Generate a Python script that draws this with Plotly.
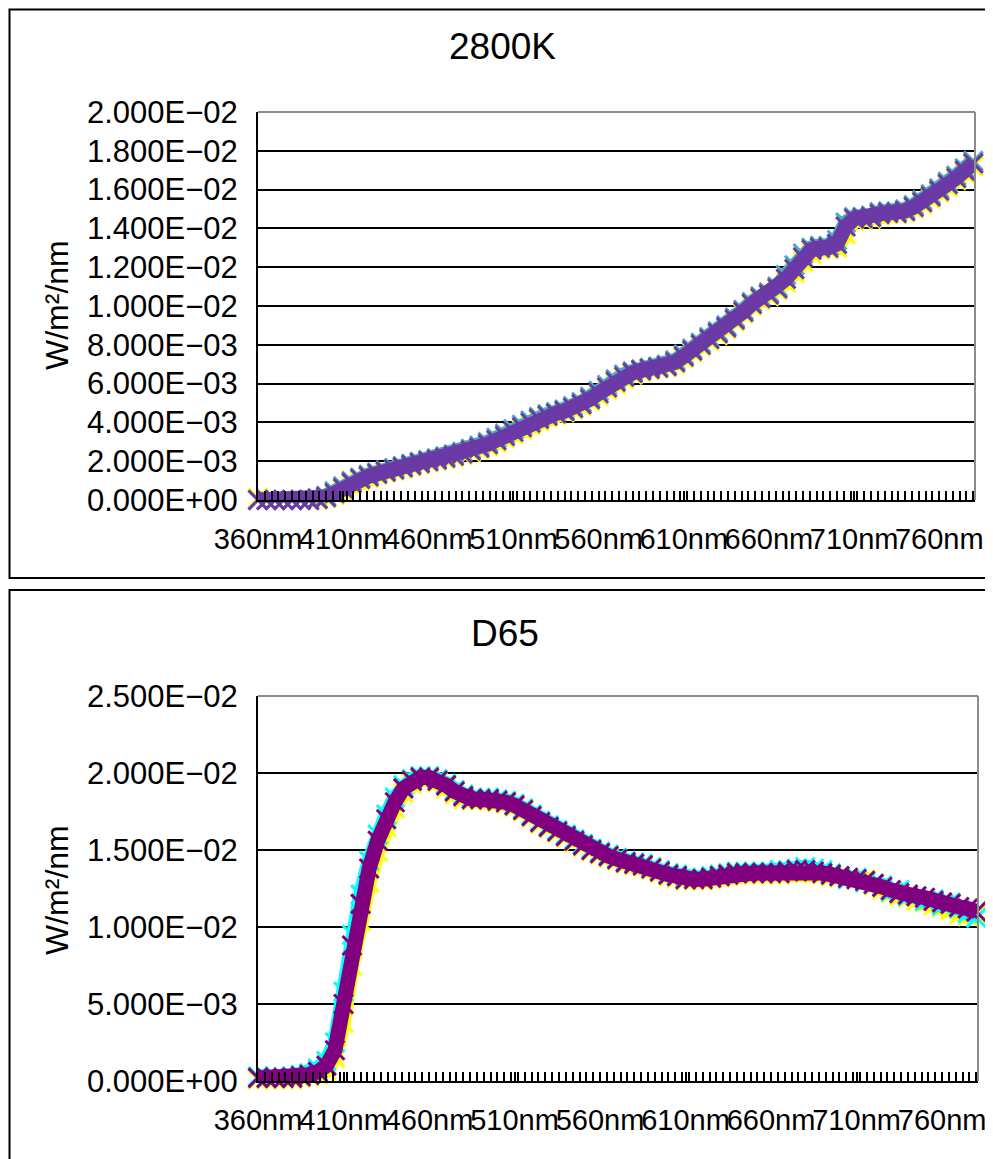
import plotly.graph_objects as go

# ---------------- data ----------------
wavelengths = list(range(360, 781, 5))

k2800_purple = [
    0.0, 0.0, 0.0, 0.0, 0.0, 0.0, 0.0, 0.00005, 0.00015, 0.00035,
    0.0006, 0.00088, 0.00108, 0.00122, 0.00135, 0.00146, 0.00157, 0.00168, 0.0018, 0.0019,
    0.002, 0.00208, 0.00218, 0.00228, 0.0024, 0.00255, 0.0027, 0.00288, 0.00308, 0.0033,
    0.00352, 0.00375, 0.00398, 0.00418, 0.00434, 0.00446, 0.00458, 0.00474, 0.00494, 0.0052,
    0.0055, 0.0058, 0.0061, 0.00635, 0.00655, 0.00668, 0.00676, 0.00682, 0.0069, 0.0071,
    0.0074, 0.0077, 0.008, 0.0083, 0.0086, 0.0089, 0.0093, 0.0097, 0.0101, 0.0104,
    0.0106, 0.0109, 0.0114, 0.0119, 0.0125, 0.0129, 0.013, 0.013, 0.0132, 0.0141,
    0.0145, 0.01452, 0.01458, 0.01475, 0.0148, 0.0148, 0.0149, 0.0151, 0.01535, 0.01565,
    0.01595, 0.01628, 0.0166, 0.01698, 0.01735,
]
k2800_yellow = [
    0.0001, 0.0, 0.0, 0.0, 0.0, 0.0, 0.0, 0.0, 0.0001, 0.00025,
    0.00048, 0.00075, 0.00098, 0.00114, 0.00128, 0.0014, 0.00151, 0.00162, 0.00173, 0.00184,
    0.00194, 0.00202, 0.00211, 0.00221, 0.00232, 0.00246, 0.0026, 0.00277, 0.00296, 0.00317,
    0.00339, 0.00362, 0.00385, 0.00407, 0.00425, 0.00439, 0.00451, 0.00465, 0.00484, 0.00508,
    0.00537, 0.00567, 0.00597, 0.00624, 0.00646, 0.00661, 0.0067, 0.00677, 0.00684, 0.00701,
    0.0073, 0.0076, 0.0079, 0.0082, 0.0085, 0.0088, 0.0092, 0.0096, 0.01, 0.0103,
    0.0105, 0.0108, 0.0112, 0.0117, 0.0123, 0.0127, 0.0129, 0.0129, 0.0130, 0.0137,
    0.0144, 0.01445, 0.0145, 0.01465, 0.01472, 0.01474, 0.01482, 0.015, 0.01524, 0.01553,
    0.01583, 0.01615, 0.01648, 0.01685, 0.0172,
]
k2800_blue = [
    0.0, 0.0, 0.0, 0.0, 0.0, 0.0, 0.00002, 0.0001, 0.00022, 0.00045,
    0.0007, 0.00098, 0.00116, 0.0013, 0.00142, 0.00153, 0.00164, 0.00175, 0.00187, 0.00197,
    0.00206, 0.00215, 0.00225, 0.00236, 0.00249, 0.00264, 0.0028, 0.00299, 0.0032, 0.00342,
    0.00365, 0.00388, 0.0041, 0.00428, 0.00442, 0.00453, 0.00466, 0.00484, 0.00505, 0.00532,
    0.00563, 0.00593, 0.00622, 0.00646, 0.00663, 0.00674, 0.00681, 0.00688, 0.00698, 0.0072,
    0.0075, 0.0078, 0.0081, 0.0084, 0.0087, 0.0090, 0.0094, 0.0098, 0.0102, 0.0105,
    0.0107, 0.0110, 0.0116, 0.0121, 0.0127, 0.0130, 0.0131, 0.0131, 0.0134, 0.0143,
    0.01458, 0.0146, 0.01466, 0.01484, 0.01488, 0.01488, 0.01498, 0.0152, 0.01546, 0.01576,
    0.01607, 0.0164, 0.01672, 0.0171, 0.01748,
]

d65_purple = [
    0.0002, 0.0002, 0.0002, 0.0002, 0.0002, 0.0003, 0.0004, 0.0006, 0.001, 0.002,
    0.005, 0.0088, 0.0115, 0.0138, 0.0156, 0.017, 0.0181, 0.019, 0.0195, 0.0197,
    0.0197, 0.0195, 0.0192, 0.0188, 0.0185, 0.0183, 0.0183, 0.0183, 0.0182, 0.0181,
    0.0179, 0.0176, 0.0172, 0.0168, 0.0165, 0.0162, 0.0159, 0.0156, 0.0153, 0.015,
    0.0148, 0.0146, 0.0144, 0.0142, 0.0141, 0.014, 0.0138, 0.0136, 0.0134, 0.0133,
    0.0131, 0.0131, 0.0131, 0.0132, 0.0133, 0.0134, 0.0135, 0.0135, 0.0135, 0.0135,
    0.0135, 0.0135, 0.0136, 0.0137, 0.0137, 0.0136, 0.0135, 0.0134, 0.0133, 0.0132,
    0.0131, 0.013, 0.0128, 0.0126, 0.0124, 0.0122, 0.0121, 0.012, 0.0119, 0.0117,
    0.0116, 0.0115, 0.0113, 0.0112, 0.011,
]
d65_yellow = [
    0.0001, 0.0001, 0.0001, 0.0001, 0.0001, 0.0002, 0.0003, 0.0004, 0.0007, 0.0015,
    0.0038, 0.0075, 0.0104, 0.0129, 0.0149, 0.0165, 0.0177, 0.0187, 0.0193, 0.0196,
    0.0196, 0.0194, 0.019, 0.0186, 0.0183, 0.0182, 0.0182, 0.0182, 0.0181, 0.018,
    0.0178, 0.0175, 0.0171, 0.0167, 0.0164, 0.0161, 0.0158, 0.0155, 0.0152, 0.0149,
    0.0147, 0.0145, 0.0143, 0.0141, 0.014, 0.0139, 0.0137, 0.0135, 0.0133, 0.0132,
    0.013, 0.013, 0.013, 0.0131, 0.0132, 0.0133, 0.0134, 0.0134, 0.0134, 0.0134,
    0.0134, 0.0134, 0.0135, 0.0136, 0.0136, 0.0135, 0.0134, 0.0133, 0.0132, 0.0132,
    0.0131, 0.0131, 0.0127, 0.0124, 0.0122, 0.012, 0.0119, 0.0117, 0.0116, 0.0114,
    0.0113, 0.0111, 0.0108, 0.0107, 0.0108,
]
d65_cyan = [
    0.0003, 0.0002, 0.0003, 0.0002, 0.0003, 0.0004, 0.0005, 0.0008, 0.0013, 0.0025,
    0.0058, 0.0095, 0.0121, 0.0143, 0.016, 0.0173, 0.0184, 0.0192, 0.0196, 0.0198,
    0.0198, 0.0196, 0.0193, 0.0189, 0.0186, 0.0184, 0.0184, 0.0184, 0.0183, 0.0182,
    0.018, 0.0177, 0.0173, 0.0169, 0.0166, 0.0163, 0.016, 0.0157, 0.0154, 0.0151,
    0.0149, 0.0147, 0.0145, 0.0143, 0.0142, 0.0141, 0.0139, 0.0137, 0.0135, 0.0134,
    0.0132, 0.0132, 0.0132, 0.0133, 0.0134, 0.0135, 0.0136, 0.0136, 0.0136, 0.0136,
    0.0136, 0.0137, 0.0137, 0.0138, 0.0139, 0.0138, 0.0137, 0.0135, 0.0133, 0.0131,
    0.0132, 0.0129, 0.0128, 0.0127, 0.0123, 0.0124, 0.012, 0.012, 0.0117, 0.0118,
    0.0114, 0.0116, 0.0112, 0.0109, 0.0106,
]

x_tickvals = [360, 410, 460, 510, 560, 610, 660, 710, 760]
x_ticktext = ["360nm", "410nm", "460nm", "510nm", "560nm", "610nm", "660nm", "710nm", "760nm"]

top_tickvals = [0.0, 0.002, 0.004, 0.006, 0.008, 0.010, 0.012, 0.014, 0.016, 0.018, 0.020]
top_ticktext = ["0.000E+00", "2.000E−03", "4.000E−03", "6.000E−03", "8.000E−03", "1.000E−02",
                "1.200E−02", "1.400E−02", "1.600E−02", "1.800E−02", "2.000E−02"]
bot_tickvals = [0.0, 0.005, 0.010, 0.015, 0.020, 0.025]
bot_ticktext = ["0.000E+00", "5.000E−03", "1.000E−02", "1.500E−02", "2.000E−02", "2.500E−02"]

titles = ["2800K", "D65"]
y_title = "W/m²/nm"

# ---------------- figure ----------------
# the page body has an 8px margin, so the figure is shifted by OFF pixels
OFF = 8
W, H = 993 - OFF, 1159 - OFF
FONT = "Liberation Sans, Arial, sans-serif"


def px_x(p):
    return (p - OFF) / W


def px_y(p):
    return 1 - (p - OFF) / H


fig = go.Figure()


def add_series(y, color, xa, ya, size=19):
    fig.add_trace(go.Scatter(
        x=wavelengths, y=y, mode="lines+markers",
        line=dict(color=color, width=15),
        marker=dict(symbol="x-thin", size=size, line=dict(color=color, width=3), color=color),
        xaxis=xa, yaxis=ya, cliponaxis=False, showlegend=False, hoverinfo="skip",
    ))


add_series(k2800_yellow, "#FFFF00", "x", "y")
add_series(k2800_blue, "#4BACC6", "x", "y")
add_series(k2800_purple, "#6B3AA6", "x", "y")

add_series(d65_yellow, "#FFFF00", "x2", "y2")
add_series(d65_cyan, "#00FFFF", "x2", "y2")
add_series(d65_purple, "#800080", "x2", "y2")

xcommon = dict(
    tickmode="array", tickvals=x_tickvals, ticktext=x_ticktext, tickangle=0,
    ticks="inside", ticklen=9, tickwidth=1.5, tickcolor="black",
    minor=dict(ticks="inside", ticklen=9, tickwidth=1.5, tickcolor="black", dtick=4, tick0=360, showgrid=False),
    showline=True, linecolor="black", linewidth=2,
    showgrid=False, zeroline=False, automargin=False,
    tickfont=dict(family=FONT, size=29, color="black"),
    ticklabelstandoff=12,
)
ycommon = dict(
    tickmode="array", ticks="",
    showline=True, linecolor="black", linewidth=2,
    showgrid=True, gridcolor="black", gridwidth=1.5, zeroline=False, automargin=False,
    tickfont=dict(family=FONT, size=31, color="black"),
    ticklabelstandoff=12,
)

top_x0, top_x1, top_y0, top_y1 = 258, 975, 112, 500
bot_x0, bot_x1, bot_y0, bot_y1 = 258, 978, 696, 1081

fig.update_layout(
    width=W, height=H, autosize=False,
    margin=dict(l=0, r=0, t=0, b=0, pad=0),
    paper_bgcolor="white", plot_bgcolor="white",
    xaxis=dict(domain=[px_x(top_x0), px_x(top_x1)], range=[360, 781], anchor="y", **xcommon),
    yaxis=dict(domain=[px_y(top_y1), px_y(top_y0)], range=[0, 0.02], anchor="x",
               tickvals=top_tickvals, ticktext=top_ticktext, **ycommon),
    xaxis2=dict(domain=[px_x(bot_x0), px_x(bot_x1)], range=[360, 781], anchor="y2", **xcommon),
    yaxis2=dict(domain=[px_y(bot_y1), px_y(bot_y0)], range=[0, 0.025], anchor="x2",
                tickvals=bot_tickvals, ticktext=bot_ticktext, **ycommon),
)

shapes = []
# outer chart borders
shapes.append(dict(type="rect", xref="paper", yref="paper",
                   x0=px_x(OFF + 1.5), x1=px_x(990), y0=px_y(578), y1=px_y(OFF + 1.5),
                   line=dict(color="black", width=2), layer="above"))
shapes.append(dict(type="rect", xref="paper", yref="paper",
                   x0=px_x(OFF + 1.5), x1=px_x(990), y0=px_y(1175), y1=px_y(590),
                   line=dict(color="black", width=2), layer="above"))
# plot-area top/right borders in gray
for (x0, x1, y0, y1) in [(top_x0, top_x1, top_y0, top_y1), (bot_x0, bot_x1, bot_y0, bot_y1)]:
    shapes.append(dict(type="line", xref="paper", yref="paper",
                       x0=px_x(x0), x1=px_x(x1), y0=px_y(y0), y1=px_y(y0),
                       line=dict(color="#8c8c8c", width=2), layer="above"))
    shapes.append(dict(type="line", xref="paper", yref="paper",
                       x0=px_x(x1), x1=px_x(x1), y0=px_y(y0), y1=px_y(y1),
                       line=dict(color="#8c8c8c", width=2), layer="above"))
fig.update_layout(shapes=shapes)

annotations = [
    dict(text=titles[0], x=px_x(502), y=px_y(46), xref="paper", yref="paper",
         xanchor="center", yanchor="middle",
         showarrow=False, font=dict(family=FONT, size=37, color="black")),
    dict(text=titles[1], x=px_x(505), y=px_y(633), xref="paper", yref="paper",
         xanchor="center", yanchor="middle",
         showarrow=False, font=dict(family=FONT, size=37, color="black")),
    dict(text=y_title, x=px_x(57), y=px_y(305), xref="paper", yref="paper", textangle=-90,
         xanchor="center", yanchor="middle",
         showarrow=False, font=dict(family=FONT, size=32, color="black")),
    dict(text=y_title, x=px_x(57), y=px_y(890), xref="paper", yref="paper", textangle=-90,
         xanchor="center", yanchor="middle",
         showarrow=False, font=dict(family=FONT, size=32, color="black")),
]
fig.update_layout(annotations=annotations)

fig.write_html("out.html", config={"responsive": False})
